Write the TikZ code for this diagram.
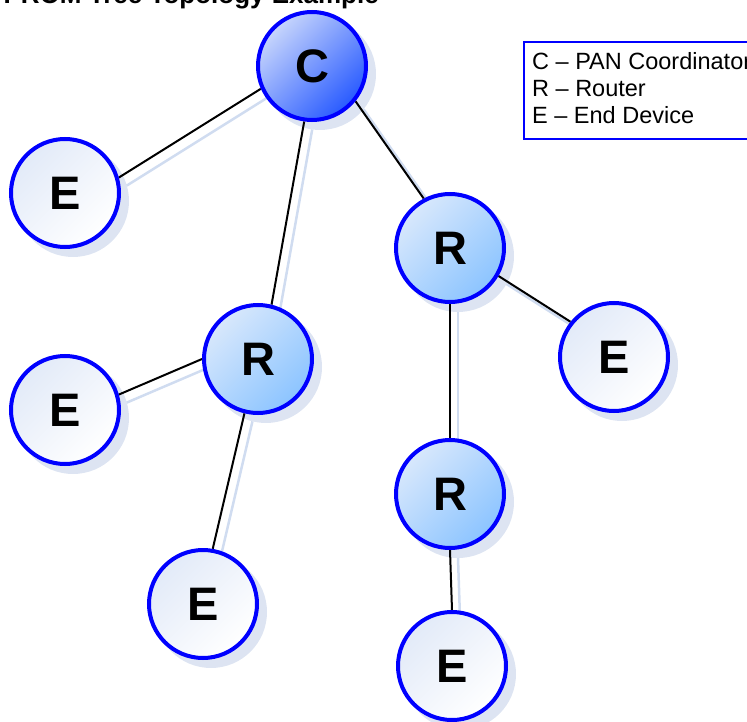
\documentclass[tikz,border=0pt]{standalone}
\usepackage{fontspec}
\setmainfont{Liberation Sans}
\usetikzlibrary{shadings}
\definecolor{nodeblue}{RGB}{0,0,255}
\definecolor{cTop}{RGB}{200,214,252}
\definecolor{cMid}{RGB}{80,118,255}
\definecolor{cBot}{RGB}{40,90,255}
\definecolor{rTop}{RGB}{216,232,252}
\definecolor{rMid}{RGB}{176,212,254}
\definecolor{rBot}{RGB}{140,196,255}
\definecolor{eTop}{RGB}{226,234,248}
\definecolor{eMid}{RGB}{240,244,252}
\definecolor{eBot}{RGB}{255,255,255}
\definecolor{circshadow}{RGB}{221,228,242}
\definecolor{lineshadowc}{RGB}{208,220,240}
\pgfdeclarelayer{shadowlayer}
\pgfdeclarelayer{linelayer}
\pgfsetlayers{shadowlayer,linelayer,main}
\tikzset{
  dev/.style={circle, minimum size=108pt, inner sep=0pt, line width=4pt, draw=nodeblue,
    font=\fontsize{47}{47}\selectfont\bfseries, shading=axis, shading angle=45},
  coord/.style={dev, top color=cTop, middle color=cMid, bottom color=cBot, shading angle=45},
  router/.style={dev, top color=rTop, middle color=rMid, bottom color=rBot, shading angle=45},
  enddev/.style={dev, top color=eTop, middle color=eMid, bottom color=eBot, shading angle=45},
  link/.style={draw=black, line width=2pt},
  linkshadow/.style={draw=lineshadowc, line width=2.5pt, transform canvas={xshift=8pt, yshift=-8pt}},
  legendbox/.style={draw=nodeblue, line width=2pt, fill=white, rectangle, inner sep=0pt},
  legendtext/.style={font=\fontsize{23.5}{27}\selectfont, inner sep=0pt},
  titletext/.style={font=\fontsize{26}{30}\selectfont\bfseries, inner sep=0pt}
}
\begin{document}
\begin{tikzpicture}[x=1pt,y=-1pt]
\useasboundingbox (0,0) rectangle (747,722);
\clip (0,0) rectangle (747,722);

\node[titletext, anchor=base east] (title) at (379,4) {PROM Tree Topology Example};

\node[coord]  (C)  at (312,66)  {C};
\node[enddev] (E1) at (65,193)  {E};
\node[router] (R1) at (258,359) {R};
\node[router] (R2) at (450,248) {R};
\node[enddev] (E2) at (614,357) {E};
\node[enddev] (E3) at (65,410)  {E};
\node[enddev] (E4) at (203,604) {E};
\node[router] (R3) at (450,494) {R};
\node[enddev] (E5) at (452,666) {E};

\begin{pgfonlayer}{shadowlayer}
  \foreach \n in {C,E1,R1,R2,E2,E3,E4,R3,E5}{
    \fill[circshadow] ([shift={(8,8)}]\n.center) circle (56);
  }
  \draw[linkshadow] (C.204) -- (E1.16);
  \draw[linkshadow] (C.262) -- (R1.76);
  \draw[linkshadow] (C.321) -- (R2.118);
  \draw[linkshadow] (R2.330) -- (E2.141);
  \draw[linkshadow] (R2.270) -- (R3.90);
  \draw[linkshadow] (R1.180) -- (E3.16);
  \draw[linkshadow] (R1.256) -- (E4.80);
  \draw[linkshadow] (R3.270) -- (E5.90);
\end{pgfonlayer}

\begin{pgfonlayer}{linelayer}
  \draw[link] (C.204) -- (E1.16);
  \draw[link] (C.262) -- (R1.76);
  \draw[link] (C.321) -- (R2.118);
  \draw[link] (R2.330) -- (E2.141);
  \draw[link] (R2.270) -- (R3.90);
  \draw[link] (R1.180) -- (E3.16);
  \draw[link] (R1.256) -- (E4.80);
  \draw[link] (R3.270) -- (E5.90);
\end{pgfonlayer}

\node[legendbox, anchor=north west, minimum width=260pt, minimum height=97pt] (legend) at (523,41) {};
\node[legendtext, anchor=base west] (L1) at (532,70)  {C – PAN Coordinator};
\node[legendtext, anchor=base west] (L2) at (532,97)  {R – Router};
\node[legendtext, anchor=base west] (L3) at (532,124) {E – End Device};
\end{tikzpicture}
\end{document}
